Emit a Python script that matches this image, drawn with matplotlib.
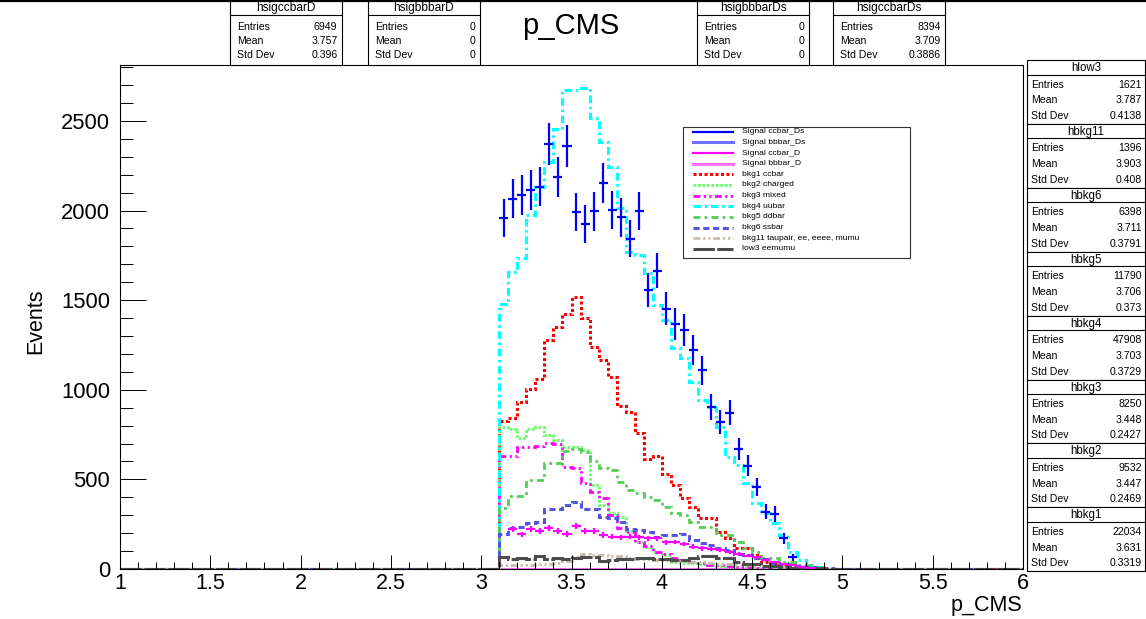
import numpy as np
import matplotlib
matplotlib.use('Agg')
import matplotlib.pyplot as plt
from matplotlib.patches import Rectangle
from matplotlib.ticker import MultipleLocator, FuncFormatter

plt.rcParams['font.family'] = ['Liberation Sans', 'DejaVu Sans']

W, H = 1146, 619

# 100 bins of 0.05 between 1 and 6, everything starts in the 3.10 bin
edges = np.linspace(1.0, 6.0, 101)
first_bin = 42

# backgrounds, bin contents from 3.10 upwards
bkg1_ccbar = [828, 841, 934, 1003, 1060, 1278, 1349, 1423, 1520, 1399, 1241, 1166, 1070,
              910, 878, 761, 612, 631, 530, 469, 398, 345, 283, 283, 208, 171, 115, 115,
              78, 41, 28, 20, 15, 9, 5, 2, 1]
bkg2_charged = [794, 781, 733, 781, 794, 748, 720, 683, 679, 664, 470, 357, 311, 290, 212,
                152, 124, 97, 78, 41, 32, 32, 28, 22, 18, 14, 11, 9, 7, 5, 4, 3, 2, 1]
bkg3_mixed = [632, 632, 683, 683, 688, 701, 696, 571, 562, 478, 431, 394, 301, 227, 205,
              152, 130, 97, 85, 62, 50, 40, 32, 25, 20, 15, 12, 9, 6, 4, 3, 2, 1]
bkg4_uubar = [1479, 1659, 1737, 1975, 2134, 2273, 2453, 2673, 2675, 2685, 2515, 2381, 2245,
              2012, 1771, 1752, 1654, 1473, 1390, 1231, 1176, 1045, 943, 906, 794, 627, 580,
              478, 367, 311, 255, 190, 97, 50, 22, 9, 3]
bkg5_ddbar = [339, 409, 409, 497, 497, 590, 590, 660, 670, 655, 600, 562, 552, 487, 441,
              422, 403, 385, 348, 311, 300, 264, 236, 236, 190, 190, 152, 115, 97, 60, 60,
              41, 41, 22, 22, 10, 4]
bkg6_ssbar = [194, 227, 236, 255, 264, 333, 335, 357, 376, 333, 333, 292, 283, 265, 222,
              215, 208, 180, 190, 190, 194, 162, 143, 134, 115, 106, 85, 78, 62, 55, 35,
              30, 18, 15, 10, 6, 3]
bkg11_taupair = [20, 22, 25, 25, 28, 28, 35, 45, 65, 85, 80, 78, 75, 70, 60, 55, 55, 50,
                 48, 45, 45, 40, 38, 35, 30, 28, 25, 20, 18, 15, 12, 10, 8, 6, 5, 3, 2, 1]
low3_eemumu = [68, 55, 62, 57, 70, 57, 62, 58, 62, 68, 68, 44, 50, 56, 56, 63, 63, 56, 56,
               50, 50, 60, 72, 72, 60, 60, 41, 28, 28, 17, 17, 10, 7, 5, 5, 3, 2]

# signal ccbar_Ds (blue points), bins from 3.10
sig_ccbar_Ds = [1960, 2065, 2087, 2113, 2134, 2370, 2188, 2360, 1992, 1927, 1996, 2154, 2003,
                1962, 1843, 1998, 1559, 1665, 1451, 1366, 1332, 1222, 1109, 906, 820, 872,
                668, 576, 456, 320, 307, 171, 65]
sig_ccbar_Ds_err = [107, 109, 110, 111, 111, 117, 113, 117, 108, 106, 108, 112, 108, 107, 103,
                    108, 95, 98, 92, 89, 88, 84, 80, 72, 69, 71, 62, 58, 51, 43, 42, 31, 19]
# signal ccbar_D (magenta points), bins from 3.15
sig_ccbar_D = [222, 194, 223, 212, 227, 214, 195, 240, 212, 212, 190, 180, 177, 180, 177, 171,
               171, 149, 151, 140, 125, 115, 110, 105, 95, 85, 75, 65, 50, 40, 30, 20, 12, 6]
sig_ccbar_D_err = [16, 15, 16, 16, 17, 16, 15, 17, 16, 16, 15, 15, 15, 15, 15, 14, 14, 13, 13,
                   13, 12, 12, 11, 11, 11, 10, 9, 9, 8, 7, 6, 5, 4, 3]

legend_labels = ['Signal ccbar_Ds', 'Signal bbbar_Ds', 'Signal ccbar_D', 'Signal bbbar_D',
                 'bkg1 ccbar', 'bkg2 charged', 'bkg3 mixed', 'bkg4 uubar', 'bkg5 ddbar',
                 'bkg6 ssbar', 'bkg11 taupair, ee, eeee, mumu', 'low3 eemumu']

top_names = ['hsigccbarD', 'hsigbbbarD', 'hsigbbbarDs', 'hsigccbarDs']
top_entries = ['6949', '0', '0', '8394']
top_means = ['3.757', '0', '0', '3.709']
top_stds = ['0.396', '0', '0', '0.3886']

side_names = ['hlow3', 'hbkg11', 'hbkg6', 'hbkg5', 'hbkg4', 'hbkg3', 'hbkg2', 'hbkg1']
side_entries = ['1621', '1396', '6398', '11790', '47908', '8250', '9532', '22034']
side_means = ['3.787', '3.903', '3.711', '3.706', '3.703', '3.448', '3.447', '3.631']
side_stds = ['0.4138', '0.408', '0.3791', '0.373', '0.3729', '0.2427', '0.2469', '0.3319']


def full(vals, start=first_bin):
	h = np.zeros(len(edges) - 1)
	h[start:start + len(vals)] = vals
	return h


fig = plt.figure(figsize=(W / 100, H / 100), dpi=100)
ax = fig.add_axes([120 / W, 50 / H, 903 / W, 504 / H])

# styles: colour, width, dash pattern
st_sbbDs = ('#7070ff', 2.2, '-')
st_sbbD = ('#ff70ff', 2.2, '-')
st_ccbar = ('#ff0000', 2.2, (0, (1, 0.8)))
st_charged = ('#66ff66', 2.0, (0, (1, 0.6)))
st_mixed = ('#ff00ff', 2.0, (0, (2.5, 1.2, 0.8, 1.2, 0.8, 1.2)))
st_uubar = ('#00ffff', 2.2, (0, (2.5, 1.2, 0.8, 1.2)))
st_ddbar = ('#55cc55', 2.0, (0, (2.5, 1.5, 1, 1.5)))
st_ssbar = ('#5555dd', 2.2, (0, (2, 1.2)))
st_tau = ('#c8bcb0', 2.0, (0, (2.5, 1, 0.8, 1, 0.8, 1)))
st_low3 = ('#4d4d4d', 2.2, (0, (7, 0.8)))

hists = [(np.zeros(100), st_sbbDs), (np.zeros(100), st_sbbD),
         (full(bkg1_ccbar), st_ccbar), (full(bkg2_charged), st_charged),
         (full(bkg3_mixed), st_mixed), (full(bkg4_uubar), st_uubar),
         (full(bkg5_ddbar), st_ddbar), (full(bkg6_ssbar), st_ssbar),
         (full(bkg11_taupair), st_tau), (full(low3_eemumu), st_low3)]
for vals, (c, lw, ls) in hists:
	ax.stairs(vals, edges, color=c, linewidth=lw, linestyle=ls, baseline=0)

cent = 0.5 * (edges[:-1] + edges[1:])
xD = cent[first_bin + 1:first_bin + 1 + len(sig_ccbar_D)]
ax.errorbar(xD, sig_ccbar_D, xerr=0.025, yerr=sig_ccbar_D_err, fmt='none',
            ecolor='#ff00ff', elinewidth=1.6, capsize=0)
xDs = cent[first_bin:first_bin + len(sig_ccbar_Ds)]
ax.errorbar(xDs, sig_ccbar_Ds, xerr=0.025, yerr=sig_ccbar_Ds_err, fmt='none',
            ecolor='#0000ff', elinewidth=1.6, capsize=0)

ax.set_xlim(1, 6)
ax.set_ylim(0, 2812)
ax.xaxis.set_major_locator(MultipleLocator(0.5))
ax.xaxis.set_minor_locator(MultipleLocator(0.1))
ax.yaxis.set_major_locator(MultipleLocator(500))
ax.yaxis.set_minor_locator(MultipleLocator(100))
ax.xaxis.set_major_formatter(FuncFormatter(lambda v, p: '%g' % v))
ax.tick_params(axis='x', which='major', direction='in', length=10.3, width=0.7,
               labelsize=15.5, pad=3)
ax.tick_params(axis='x', which='minor', direction='in', length=5, width=0.7)
ax.tick_params(axis='y', which='major', direction='in', length=18.5, width=0.7,
               labelsize=15.8, pad=7)
ax.tick_params(axis='y', which='minor', direction='in', length=9.3, width=0.7)
for s in ax.spines.values():
	s.set_linewidth(0.8)

# overlay in pixel coordinates for texts, legend and stat boxes
lax = fig.add_axes([0, 0, 1, 1], zorder=5)
lax.set_xlim(0, W)
lax.set_ylim(H, 0)
lax.axis('off')

lax.text(571, 26, 'p_CMS', ha='center', va='center', fontsize=21)
lax.text(36, 321, 'Events', ha='center', va='center', rotation=90, fontsize=15.5)
lax.text(1022, 605, 'p_CMS', ha='right', va='center', fontsize=15.5)

# legend
lax.add_patch(Rectangle((683, 127), 227, 131, facecolor='white', edgecolor='#333333', lw=0.8))
leg_styles = [('#0000ff', 1.6, '-'), st_sbbDs, ('#ff00ff', 1.6, '-'), st_sbbD, st_ccbar,
              st_charged, st_mixed, st_uubar, st_ddbar, st_ssbar, st_tau, st_low3]
for i, (lab, (c, lw, ls)) in enumerate(zip(legend_labels, leg_styles)):
	y = 131.7 + i * 10.66
	lax.plot([693, 733], [y, y], color=c, lw=lw, linestyle=ls)
	lax.text(742, y, lab, ha='left', va='center', fontsize=6.1)


def stats_box(x0, y0, w, h, hsep, hy, rows, name, ent, mean, sd, hfs, fs, lpad, rpad):
	lax.add_patch(Rectangle((x0, y0), w, h, facecolor='white', edgecolor='black', lw=0.8))
	lax.plot([x0, x0 + w], [y0 + hsep, y0 + hsep], color='black', lw=0.8)
	lax.text(x0 + w / 2, y0 + hy, name, ha='center', va='center', fontsize=hfs)
	for ry, lab, val in zip(rows, ['Entries', 'Mean', 'Std Dev'], [ent, mean, sd]):
		lax.text(x0 + lpad, y0 + ry, lab, ha='left', va='center', fontsize=fs)
		lax.text(x0 + w - rpad, y0 + ry, val, ha='right', va='center', fontsize=fs)


top_x = [230, 368, 697, 833]
for i in range(4):
	stats_box(top_x[i], -2, 112, 67, 17, 10.5, [28.7, 42.7, 57], top_names[i], top_entries[i],
	          top_means[i], top_stds[i], 8.6, 7.6, 7, 4.5)

for i in range(8):
	stats_box(1027, 60 + 63.9 * i, 118, 63.9, 14.5, 8, [24.5, 40.3, 56], side_names[i],
	          side_entries[i], side_means[i], side_stds[i], 8.3, 7.6, 4, 3)

lax.plot([0, W], [0.8, 0.8], color='black', lw=1.6)

fig.savefig('out.png', dpi=100)
